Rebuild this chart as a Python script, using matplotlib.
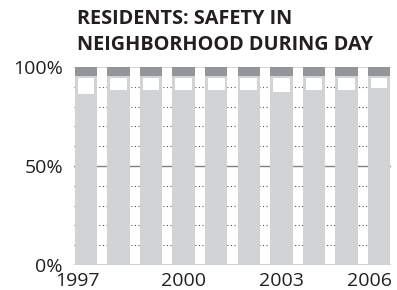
import matplotlib.pyplot as plt
from matplotlib.transforms import ScaledTranslation

# data (percent of residents)
years = [1997, 1998, 1999, 2000, 2001, 2002, 2003, 2004, 2005, 2006]
safe = [86.5, 88.5, 88.5, 88.5, 88.5, 88.5, 87.5, 88.5, 88.5, 89.5]
unsafe = [4.5, 4.5, 4.5, 4.5, 4.5, 4.5, 4.5, 4.5, 4.5, 4.5]
neutral = [100 - s - u for s, u in zip(safe, unsafe)]
tick_years = [1997, 2000, 2003, 2006]

light = "#d1d3d4"
dark = "#939598"

fig = plt.figure(figsize=(3.97, 2.90), dpi=100)
ax = fig.add_axes([74 / 397, 25 / 290, 317 / 397, 198 / 290])

x = list(range(len(years)))

# grid: dotted every 10%, solid at 50%, light at 0 and 100
for v in [10, 20, 30, 40, 60, 70, 80, 90]:
    ax.axhline(v, color="#58595b", linestyle=(0, (1, 2.2)), linewidth=0.8, zorder=0)
ax.axhline(50, color="#808285", linewidth=1.0, zorder=0)
ax.axhline(100, color=light, linewidth=1.5, zorder=0)
ax.axhline(0, color=light, linewidth=1.5, zorder=0)

# full light bar, white "neutral" window, dark top
ax.bar(x, [100] * len(x), width=0.69, color=light, zorder=2)
ax.bar(x, [n - 1.2 for n in neutral], bottom=safe, width=0.51, color="white", zorder=3)
ax.bar(x, unsafe, bottom=[100 - u for u in unsafe], width=0.69, color=dark, zorder=4)

ax.set_xlim(-0.37, 9.37)
ax.set_ylim(0, 100)
for s in ax.spines.values():
    s.set_visible(False)

ax.set_yticks([0, 50, 100])
ax.set_yticklabels(["0%", "50%", "100%"], fontsize=14, family="Open Sans", color="#231f20")
ax.set_xticks([years.index(y) for y in tick_years])
ax.set_xticklabels([str(y) for y in tick_years], fontsize=14, family="Open Sans", color="#231f20")
ax.tick_params(length=0)
ax.tick_params(axis="x", pad=5)
ax.tick_params(axis="y", pad=8)

# nudge first and last year labels the way the original sits them
xl = ax.get_xticklabels()
xl[0].set_transform(xl[0].get_transform() + ScaledTranslation(-0.09, 0, fig.dpi_scale_trans))
xl[-1].set_transform(xl[-1].get_transform() + ScaledTranslation(-0.09, 0, fig.dpi_scale_trans))

fig.text(77 / 397, 1 - 9 / 290, "RESIDENTS: SAFETY IN\nNEIGHBORHOOD DURING DAY",
         ha="left", va="top", fontsize=14.3, fontweight="bold", family="Open Sans",
         color="#231f20", linespacing=1.4)

fig.savefig("out.png", dpi=100)
